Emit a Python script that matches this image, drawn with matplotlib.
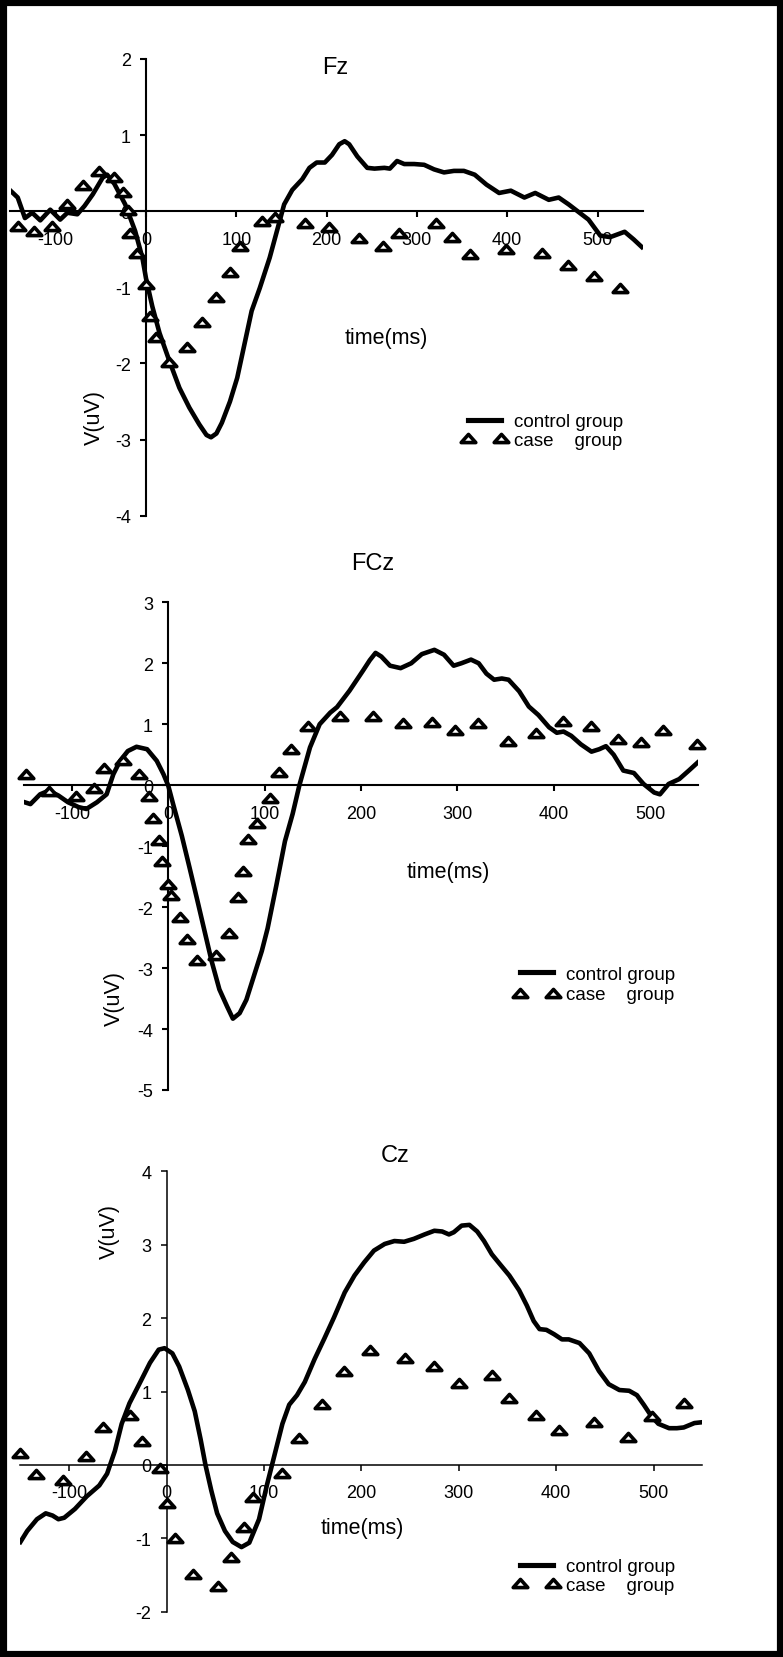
import numpy as np
import matplotlib
matplotlib.use("Agg")
import matplotlib.pyplot as plt
from matplotlib.path import Path
from matplotlib.lines import Line2D
from matplotlib.patches import Rectangle

plt.rcParams['font.family'] = ['Liberation Sans', 'DejaVu Sans']
plt.rcParams['axes.unicode_minus'] = False

# ---------------- data ----------------
# Fz
fz_ctrl_t = [-150, -142, -134, -126, -117, -106, -95, -87, -76, -68, -59, -48, -43, -35, -23, -12, -4, 0,
             7, 15, 26, 37, 48, 59, 67, 72, 78, 84, 93, 101, 109, 117, 126, 137, 145, 153, 162, 173, 181,
             189, 198, 206, 214, 220, 225, 234, 245, 253, 264, 270, 278, 286, 297, 308, 319, 330, 341,
             352, 364, 377, 391, 404, 419, 431, 446, 457, 468, 479, 490, 503, 514, 530, 540, 549]
fz_ctrl_v = [0.27, 0.18, -0.09, -0.02, -0.12, 0.02, -0.11, -0.02, -0.04, 0.07, 0.22, 0.44, 0.48, 0.36, 0.09,
             -0.26, -0.61, -0.88, -1.25, -1.60, -1.97, -2.32, -2.58, -2.80, -2.94, -2.97, -2.92, -2.78,
             -2.50, -2.19, -1.75, -1.31, -1.01, -0.61, -0.26, 0.09, 0.28, 0.42, 0.57, 0.64, 0.64, 0.74,
             0.88, 0.92, 0.88, 0.72, 0.57, 0.56, 0.57, 0.56, 0.66, 0.62, 0.62, 0.61, 0.55, 0.51, 0.53,
             0.53, 0.48, 0.35, 0.24, 0.27, 0.18, 0.24, 0.15, 0.18, 0.09, -0.01, -0.11, -0.32, -0.34,
             -0.27, -0.37, -0.47]
fz_case_t = [-142, -124, -104, -87, -70, -52, -35, -25, -20, -18, -10, 0, 5, 11, 25, 45, 62, 77, 93, 104,
             129, 143, 176, 203, 236, 263, 280, 321, 339, 359, 399, 439, 467, 496, 525]
fz_case_v = [-0.19, -0.26, -0.19, 0.10, 0.34, 0.53, 0.45, 0.25, 0.02, -0.28, -0.55, -0.95, -1.37, -1.65,
             -1.98, -1.79, -1.45, -1.13, -0.80, -0.46, -0.13, -0.07, -0.15, -0.21, -0.35, -0.46, -0.28,
             -0.16, -0.34, -0.56, -0.49, -0.55, -0.70, -0.85, -1.01]

# FCz
fcz_ctrl_t = [-149, -143, -133, -124, -114, -104, -93, -85, -74, -64, -57, -50, -42, -33, -22, -12, -5, 0,
              5, 14, 22, 30, 38, 45, 53, 61, 67, 74, 81, 89, 97, 103, 112, 121, 129, 136, 147, 157, 168,
              175, 188, 202, 209, 215, 221, 230, 241, 252, 263, 276, 286, 296, 304, 314, 322, 330, 338,
              346, 353, 364, 374, 384, 395, 403, 410, 418, 428, 439, 447, 454, 462, 472, 483, 493, 504,
              510, 519, 530, 540, 549]
fcz_ctrl_v = [-0.28, -0.31, -0.15, -0.09, -0.17, -0.28, -0.36, -0.39, -0.28, -0.15, 0.18, 0.40, 0.56, 0.63,
              0.59, 0.40, 0.18, -0.01, -0.31, -0.83, -1.35, -1.88, -2.42, -2.89, -3.35, -3.63, -3.83,
              -3.74, -3.52, -3.12, -2.72, -2.35, -1.65, -0.92, -0.47, 0.0, 0.62, 1.00, 1.19, 1.28, 1.55,
              1.88, 2.05, 2.17, 2.11, 1.96, 1.92, 2.00, 2.15, 2.22, 2.14, 1.96, 2.00, 2.06, 2.00, 1.83,
              1.73, 1.75, 1.73, 1.54, 1.29, 1.15, 0.95, 0.86, 0.88, 0.81, 0.67, 0.55, 0.59, 0.64, 0.50,
              0.24, 0.20, 0.02, -0.12, -0.15, 0.02, 0.10, 0.24, 0.37]
fcz_case_t = [-148, -124, -96, -77, -67, -47, -30, -20, -15.5, -10, -7, 0, 3, 12, 19.5, 29.5, 50, 63, 72.5,
              77, 83, 92, 105, 114.5, 127, 144.5, 178, 212.5, 243, 274, 297, 321, 352, 381, 409, 438,
              466, 490, 513, 548]
fcz_case_v = [0.19, -0.10, -0.17, -0.05, 0.28, 0.41, 0.19, -0.17, -0.54, -0.90, -1.24, -1.62, -1.80, -2.16,
              -2.52, -2.87, -2.78, -2.42, -1.84, -1.41, -0.89, -0.62, -0.21, 0.22, 0.60, 0.97, 1.13, 1.13,
              1.02, 1.03, 0.91, 1.02, 0.72, 0.86, 1.06, 0.97, 0.76, 0.71, 0.90, 0.67]

# Cz
cz_ctrl_t = [-150, -143, -133, -124, -117, -111, -105, -94, -82, -69, -61, -53, -46, -38, -28, -17, -8, -2,
             6, 13, 22, 29, 35, 40, 46, 52, 60, 68, 77, 85, 95, 103, 111, 119, 126, 134, 142, 152, 162,
             172, 183, 193, 203, 213, 224, 234, 244, 254, 265, 275, 283, 290, 295, 303, 311, 319, 326,
             334, 342, 352, 362, 370, 377, 383, 390, 398, 406, 413, 424, 434, 444, 454, 465, 475, 483,
             490, 498, 505, 516, 524, 531, 542, 549]
cz_ctrl_v = [-1.05, -0.90, -0.74, -0.66, -0.69, -0.74, -0.72, -0.60, -0.43, -0.28, -0.12, 0.19, 0.56, 0.84,
             1.10, 1.39, 1.57, 1.59, 1.52, 1.34, 1.02, 0.73, 0.35, 0.0, -0.35, -0.66, -0.90, -1.05, -1.12,
             -1.06, -0.74, -0.28, 0.14, 0.56, 0.82, 0.95, 1.13, 1.44, 1.72, 2.01, 2.35, 2.58, 2.76, 2.92,
             3.01, 3.05, 3.04, 3.08, 3.14, 3.19, 3.18, 3.14, 3.17, 3.26, 3.27, 3.18, 3.05, 2.87, 2.74,
             2.58, 2.38, 2.17, 1.96, 1.85, 1.84, 1.78, 1.71, 1.71, 1.66, 1.52, 1.28, 1.10, 1.02, 1.01,
             0.95, 0.82, 0.66, 0.56, 0.50, 0.50, 0.51, 0.57, 0.58]
cz_case_t = [-150, -134, -106, -83, -65, -37, -25, -7, 0, 9, 27.5, 52.5, 66.5, 79.5, 88.5, 118.5, 136.5,
             159.5, 182.5, 209, 245, 275, 300.5, 334, 352, 379, 403, 439, 474, 498, 531.5]
cz_case_v = [0.16, -0.12, -0.20, 0.12, 0.51, 0.68, 0.32, -0.04, -0.52, -1.00, -1.48, -1.65, -1.25, -0.85,
             -0.44, -0.11, 0.36, 0.83, 1.28, 1.57, 1.45, 1.35, 1.12, 1.22, 0.91, 0.68, 0.47, 0.59, 0.38,
             0.66, 0.84]

x_ticks = [-100, 0, 100, 200, 300, 400, 500]
labels = ['control group', 'case    group']

# ---------------- figure ----------------
W, H = 783, 1658
fig = plt.figure(figsize=(W / 100, H / 100), dpi=100)

# squat open triangle like the excel marker
tri = Path([(-1, -0.56), (1, -0.56), (0, 0.56), (-1, -0.56)],
           [Path.MOVETO, Path.LINETO, Path.LINETO, Path.CLOSEPOLY])
MS, MEW, LW = 10.5, 2.6, 3.3


def px_axes(left, right, top, bottom):
    return fig.add_axes([left / W, 1 - bottom / H, (right - left) / W, (bottom - top) / H])


def draw_panel(ax, ctrl_t, ctrl_v, case_t, case_v, ylim, title, title_xy, xlab_xy, ylab_xy,
               leg_xy, leg_gap, spine_w):
    ax.plot(ctrl_t, ctrl_v, color='black', lw=LW, solid_joinstyle='round', zorder=2)
    ax.plot(case_t, case_v, ls='none', marker=tri, ms=MS, mfc='white', mec='black', mew=MEW,
            zorder=3, clip_on=False)
    ax.set_xlim(-150, 550)
    ax.set_ylim(*ylim)
    ax.spines['left'].set_position(('data', 0))
    ax.spines['bottom'].set_position(('data', 0))
    ax.spines['top'].set_visible(False)
    ax.spines['right'].set_visible(False)
    for s in ['left', 'bottom']:
        ax.spines[s].set_linewidth(spine_w)
    ax.set_xticks(x_ticks)
    ax.set_yticks(range(ylim[0], ylim[1] + 1))
    ax.tick_params(axis='x', direction='out', length=4.5, width=spine_w, pad=9.5, labelsize=13)
    ax.tick_params(axis='y', direction='out', length=4.5, width=spine_w, pad=6.5, labelsize=13)
    ax.patch.set_visible(False)

    ax.text(title_xy[0], title_xy[1], title, ha='center', va='center', fontsize=17)
    ax.text(xlab_xy[0], xlab_xy[1], 'time(ms)', ha='center', va='center', fontsize=15.5)
    ax.text(ylab_xy[0], ylab_xy[1], 'V(uV)', ha='center', va='center', rotation=90, fontsize=15.5)

    h1 = Line2D([], [], color='black', lw=LW + 0.4)
    h2 = Line2D([], [], ls='none', marker=tri, ms=MS, mfc='white', mec='black', mew=MEW)
    ax.legend([h1, h2], labels, loc='center left', bbox_to_anchor=(leg_xy[0] / W, 1 - leg_xy[1] / H),
              bbox_transform=fig.transFigure, frameon=False, numpoints=2, handlelength=2.4,
              handletextpad=0.4, labelspacing=leg_gap, borderpad=0, borderaxespad=0, fontsize=13.5)


ax1 = px_axes(10.5, 642.7, 60, 516.7)
draw_panel(ax1, fz_ctrl_t, fz_ctrl_v, fz_case_t, fz_case_v, (-4, 2), 'Fz',
           (209, 1.90), (266, -1.66), (-57.6, -2.70), (462, 432), 0.08, 1.5)

ax2 = px_axes(23.7, 698.5, 603.3, 1091)
draw_panel(ax2, fcz_ctrl_t, fcz_ctrl_v, fcz_case_t, fcz_case_v, (-5, 3), 'FCz',
           (212, 3.64), (290, -1.42), (-56.3, -3.49), (514, 985.5), 0.18, 1.5)

ax3 = px_axes(20.4, 702.2, 1172.3, 1612.7)
draw_panel(ax3, cz_ctrl_t, cz_ctrl_v, cz_case_t, cz_case_v, (-2, 4), 'Cz',
           (235, 4.22), (201, -0.85), (-58.7, 3.20), (514, 1577), 0.08, 1.1)

# thick black frame round the whole picture
fig.patches.append(Rectangle((0, 0), 1, 1, transform=fig.transFigure, fill=False,
                             edgecolor='black', linewidth=9.5, zorder=10))

fig.savefig('out.png', dpi=100)
